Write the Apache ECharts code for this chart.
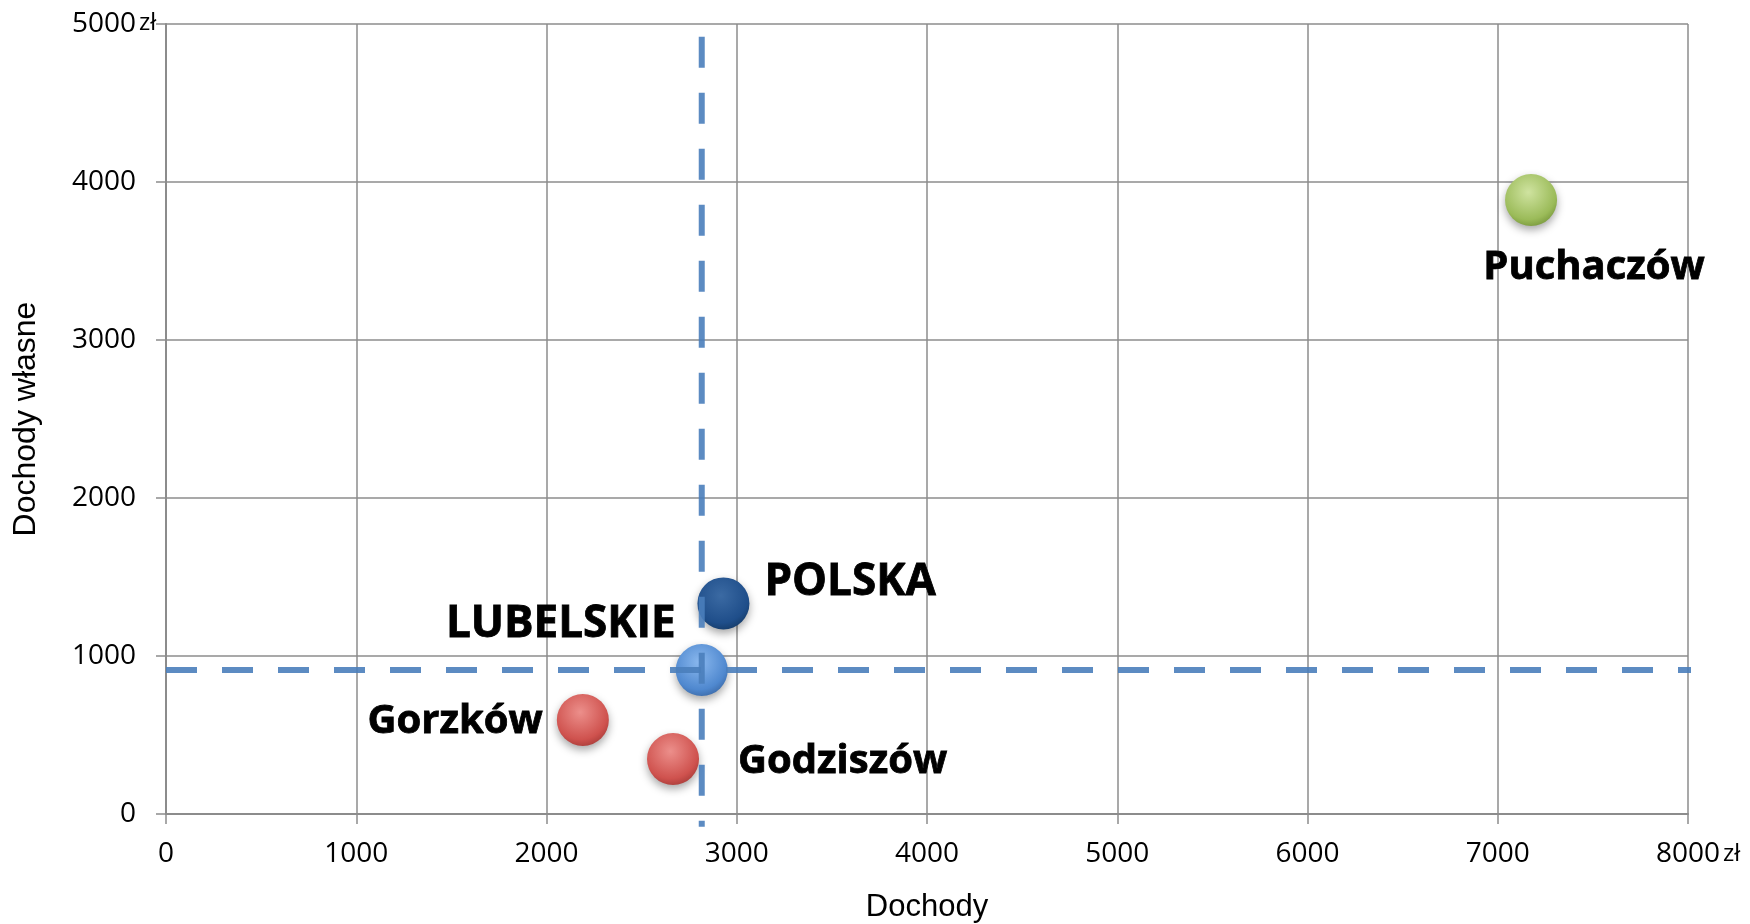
<!DOCTYPE html>
<html>
<head>
<meta charset="utf-8">
<script src="https://cdn.jsdelivr.net/npm/echarts@6/dist/echarts.min.js"></script>
<style>
  html, body { margin: 0; padding: 0; background: #fff; }
  #chart { width: 1750px; height: 924px; }
</style>
</head>
<body>
<div id="chart"></div>
<script>
// gminy i średnie: dochody / dochody własne na mieszkańca (zł)
const names = ['Puchaczów', 'POLSKA', 'LUBELSKIE', 'Gorzków', 'Godziszów'];
const dochody = [7175, 2930, 2816, 2191, 2665];
const dochodyWlasne = [3886, 1333, 911, 595, 348];

// linie odniesienia (średnia dla województwa)
const refX = 2816;
const refY = 911;
const refXSpan = [-80, 4920];
const refYSpan = [0, 8040];

const xTicks = [0, 1000, 2000, 3000, 4000, 5000, 6000, 7000, 8000];
const yTicks = [0, 1000, 2000, 3000, 4000, 5000];
const unit = 'zł';

// wygląd kulek i etykiet
const bubbleColors = {
    'Puchaczów': ['#cfe3a0', '#9bbb59', '#76963a'],
    'POLSKA': ['#3b6aa3', '#1f4e8a', '#153a66'],
    'LUBELSKIE': ['#8ab8ee', '#4f88cf', '#3a68a5'],
    'Gorzków': ['#ec8f8b', '#cf524e', '#a63b38'],
    'Godziszów': ['#ec8f8b', '#cf524e', '#a63b38']
};
const labelPlace = {
    'Puchaczów': { align: 'center', offset: [63, 68], size: 40 },
    'POLSKA': { align: 'left', offset: [41, -21], size: 44 },
    'LUBELSKIE': { align: 'right', offset: [-26, -46], size: 44 },
    'Gorzków': { align: 'right', offset: [-40, 2], size: 40 },
    'Godziszów': { align: 'left', offset: [65, 3], size: 40 }
};

const points = names.map((n, i) => {
    const c = bubbleColors[n];
    return {
        name: n,
        value: [dochody[i], dochodyWlasne[i]],
        itemStyle: {
            opacity: 1,
            color: {
                type: 'radial', x: 0.45, y: 0.35, r: 0.7,
                colorStops: [
                    { offset: 0, color: c[0] },
                    { offset: 0.75, color: c[1] },
                    { offset: 1, color: c[2] }
                ]
            },
            shadowBlur: 8,
            shadowOffsetY: 4,
            shadowColor: 'rgba(0,0,0,0.35)'
        },
        label: {
            show: true,
            position: 'inside',
            align: labelPlace[n].align,
            verticalAlign: 'middle',
            offset: labelPlace[n].offset,
            formatter: n,
            fontFamily: 'Open Sans',
            fontWeight: 'bold',
            fontSize: labelPlace[n].size,
            color: '#000',
            opacity: 1,
            textBorderColor: '#000',
            textBorderWidth: 0.8
        }
    };
});

const plain = v => String(v);

const chart = echarts.init(document.getElementById('chart'));
chart.setOption({
    animation: false,
    grid: { left: 166, right: 62, top: 24, bottom: 110, outerBoundsMode: 'none' },
    xAxis: {
        type: 'value',
        min: xTicks[0],
        max: xTicks[xTicks.length - 1],
        interval: 1000,
        name: 'Dochody',
        nameLocation: 'middle',
        nameGap: 78,
        nameTextStyle: { fontFamily: 'Liberation Sans', fontSize: 31, color: '#000' },
        axisLine: { show: true, lineStyle: { color: '#8c8c8c', width: 2 } },
        axisTick: { show: true, length: 10, lineStyle: { color: '#8c8c8c', width: 1.5 } },
        axisLabel: { margin: 26, fontFamily: 'Open Sans', fontSize: 28, color: '#000', formatter: plain },
        splitLine: { show: true, lineStyle: { color: '#8c8c8c', width: 1.5 } }
    },
    yAxis: {
        type: 'value',
        min: yTicks[0],
        max: yTicks[yTicks.length - 1],
        interval: 1000,
        name: 'Dochody własne',
        nameLocation: 'middle',
        nameRotate: 90,
        nameGap: 124,
        nameTextStyle: { fontFamily: 'Liberation Sans', fontSize: 32, color: '#000' },
        axisLine: { show: true, lineStyle: { color: '#8c8c8c', width: 2 } },
        axisTick: { show: true, length: 10, lineStyle: { color: '#8c8c8c', width: 1.5 } },
        axisLabel: { margin: 30, fontFamily: 'Open Sans', fontSize: 28, color: '#000', formatter: plain },
        splitLine: { show: true, lineStyle: { color: '#8c8c8c', width: 1.5 } }
    },
    series: [
        {
            type: 'scatter',
            symbol: 'circle',
            symbolSize: 52,
            data: points,
            z: 2
        },
        {
            type: 'line',
            clip: false,
            symbol: 'none',
            silent: true,
            z: 3,
            lineStyle: { color: '#4a7ebb', width: 6, type: [31, 25], opacity: 0.9 },
            data: [[refX, refXSpan[1]], [refX, refXSpan[0]]]
        },
        {
            type: 'line',
            clip: false,
            symbol: 'none',
            silent: true,
            z: 3,
            lineStyle: { color: '#4a7ebb', width: 6, type: [31, 25], opacity: 0.9 },
            data: [[refYSpan[0], refY], [refYSpan[1], refY]]
        }
    ]
});

// jednostka "zł" doklejona za etykietami wartości maksymalnych
const yTop = chart.convertToPixel({ gridIndex: 0 }, [xTicks[0], yTicks[yTicks.length - 1]]);
const xEnd = chart.convertToPixel({ gridIndex: 0 }, [xTicks[xTicks.length - 1], yTicks[0]]);
const unitStyle = { text: unit, fontFamily: 'Open Sans', fontSize: 24, fill: '#000', align: 'left', verticalAlign: 'middle' };
chart.setOption({
    graphic: [
        { type: 'text', x: yTop[0] - 27, y: yTop[1] - 1, style: unitStyle },
        { type: 'text', x: xEnd[0] + 35, y: xEnd[1] + 40, style: unitStyle }
    ]
});
</script>
</body>
</html>
